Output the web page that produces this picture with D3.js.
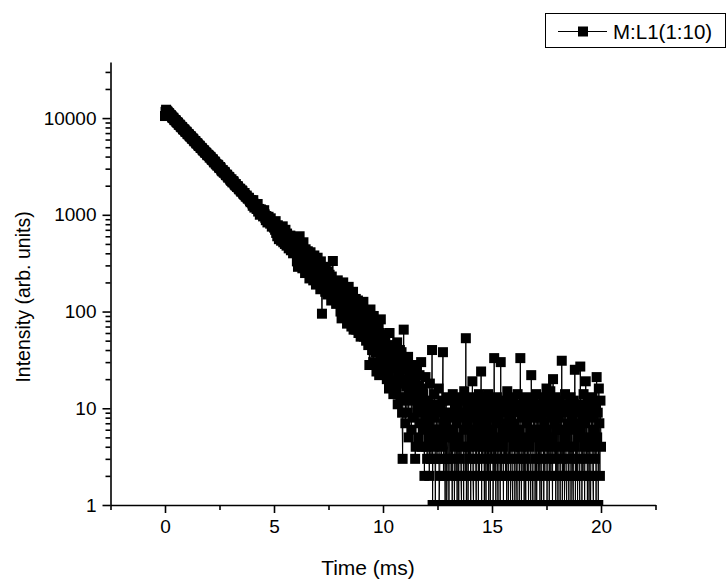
<!DOCTYPE html>
<html><head><meta charset="utf-8">
<script src="https://cdn.jsdelivr.net/npm/d3@7"></script>
<style>
body{margin:0;background:#fff}
svg{display:block}
text{font-family:"Liberation Sans",Arial,sans-serif;fill:#000}
</style>
</head><body>
<svg id="chart" width="727" height="581"></svg>
<script>
// ---- data ----
const seriesName = "M:L1(1:10)";
const xLabel = "Time (ms)";
const yLabel = "Intensity (arb. units)";
const timeStart = 0;       // ms, first sample
const timeStep = 0.025;    // ms, sampling interval
// intensity, in consecutive time blocks
const int0to2 = [
10500,11600,12200,11900,11700,11600,11250,11300,11100,10800,
10600,10700,10500,10200,10050,10100,9900,9600,9500,9550,
9400,9100,9000,9050,8900,8600,8500,8550,8400,8150,
8050,8100,7950,7700,7600,7650,7550,7300,7200,7250,
7150,6900,6800,6850,6750,6550,6450,6500,6400,6200,
6100,6150,6050,5850,5750,5800,5750,5550,5450,5500,
5420,5250,5150,5200,5130,4950,4900,4920,4850,4700,
4620,4650,4600,4450,4380,4400,4350,4200,4130,4180,
4120];
const int2to4 = [
4050,3900,3980,3920,3800,3700,3760,3720,3580,3480,
3560,3500,3380,3330,3310,3220,3290,3230,3100,3040,
3120,3060,2940,2870,2820,2900,2790,2720,2780,2740,
2630,2580,2560,2600,2490,2420,2470,2450,2360,2300,
2250,2330,2210,2160,2230,2200,2110,2060,2020,2080,
1990,1940,1980,1960,1880,1840,1830,1860,1770,1730,
1790,1760,1690,1640,1620,1680,1600,1550,1540,1580,
1510,1470,1480,1500,1430,1390,1350,1420,1360,1310];
const int4to6 = [
1240,1418,1300,1188,1210,1268,1240,1149,1170,1294,
1080,1110,1150,1002,1040,1136,1120,1053,1060,963,
990,1116,1010,930,880,971,930,834,890,954,
860,851,810,920,830,755,780,807,840,738,
820,700,860,650,760,600,780,690,560,720,
640,710,540,690,600,760,520,650,590,500,
700,560,480,640,520,600,450,580,520,610,
430,560,490,520,400,540,470,560,410,500];
const int6to8 = [
540,330,460,290,510,380,600,350,420,300,
470,280,400,520,310,360,250,440,330,390,
260,420,300,380,220,350,410,270,330,240,
340,210,300,380,240,290,190,330,260,360,
200,310,240,280,170,330,220,95,260,210,
270,180,240,160,290,200,230,150,260,190,
160,240,190,210,130,230,175,333,150,200,
200,135,175,120,190,145,210,125,170,140];
const int8to10 = [
190,100,160,85,140,120,200,95,150,110,
90,160,120,75,150,100,180,80,130,105,
140,70,115,95,160,65,120,90,75,135,
65,110,85,130,60,100,75,125,55,95,
110,60,90,126,55,85,70,100,50,80,
60,95,45,80,28,50,105,58,85,40,
75,30,90,55,65,38,80,24,70,45,
42,70,22,60,55,83,32,58,26,51];
const int10to12 = [
30,38,24,55,42,29,20,44,33,22,
16,60,26,33,45,18,28,41,14,27,
36,35,19,15,30,48,11,24,22,31,
40,12,18,38,9,3,25,65,13,20,
7,26,17,9,29,34,5,16,12,22,
26,6,15,28,8,13,20,19,3,4,
14,25,9,11,5,17,22,7,12,30,
4,10,16,14,6,2,11,21,4,8];
const int12to13 = [
3,12,7,5,2,18,10,3,6,40,
1,9,4,14,8,1,5,11,3,6,
9,16,1,2,6,10,3,4,12,38,
2,7,5,1,8,13,1,3,6,9];
const int13to20 = [
1,9,3,12,2,6,1,14,5,8,
1,4,10,2,7,1,11,5,1,13,
3,8,2,1,12,4,9,1,15,6,
2,53,1,7,10,1,4,13,3,8,
1,11,5,19,2,1,9,6,12,3,
1,10,4,7,1,14,2,8,5,24,
1,13,3,9,6,1,11,4,1,7,
10,2,14,1,5,8,1,12,3,6,
9,1,4,33,2,11,1,7,13,3,
1,8,5,12,1,30,2,10,6,4,
1,11,3,9,2,7,1,15,5,1,
12,3,8,1,6,10,2,1,13,4,
7,1,9,5,2,1,14,3,11,1,
6,33,4,1,10,8,2,12,1,5,
3,1,13,7,2,9,1,4,11,6,
1,22,8,2,1,12,5,10,1,3,
14,1,6,9,2,11,4,1,8,3,
1,10,5,13,1,7,2,12,6,16,
1,9,3,11,1,4,15,2,8,5,
1,20,10,3,7,13,1,6,2,11,
1,8,4,12,1,9,3,31,1,6,
2,10,1,14,5,2,1,11,7,4,
1,9,3,13,1,6,8,2,1,12,
4,25,1,10,2,7,1,9,5,3,
1,27,6,11,1,8,2,14,4,1,
7,19,3,10,1,5,12,1,9,2,
1,8,4,13,2,1,10,6,3,11,
1,21,5,9,1,16,7,2,12,4];
const intensity = [].concat(int0to2, int2to4, int4to6, int6to8, int8to10, int10to12, int12to13, int13to20);

const xDomain = [-2.5, 22.5];
const yDomain = [1, 38000];
const xTicks = [0, 5, 10, 15, 20];
const xTickLabels = ["0", "5", "10", "15", "20"];
const xMinorTicks = [-2.5, 2.5, 7.5, 12.5, 17.5, 22.5];
const yTicks = [1, 10, 100, 1000, 10000];
const yTickLabels = ["1", "10", "100", "1000", "10000"];
const yMinorMultipliers = [2, 3, 4, 5, 6, 7, 8, 9];

// ---- layout ----
const svg = d3.select("#chart");
const pL = 110.5, pR = 655.5, pT = 62, pB = 505;
const x = d3.scaleLinear().domain(xDomain).range([pL, pR]);
const y = d3.scaleLog().domain(yDomain).range([pB, pT]);

const points = intensity.map((v, i) => ({t: timeStart + i * timeStep, v})).filter(d => d.v > 0);

svg.append("defs").append("clipPath").attr("id", "plotclip")
  .append("rect").attr("x", pL).attr("y", pT - 20).attr("width", pR - pL).attr("height", pB - pT + 20);

const plot = svg.append("g").attr("clip-path", "url(#plotclip)");
plot.append("path").datum(points)
  .attr("fill", "none").attr("stroke", "#000").attr("stroke-width", 1)
  .attr("d", d3.line().x(d => x(d.t)).y(d => y(d.v)));
const ms = 10;
plot.selectAll("rect.pt").data(points).join("rect").attr("class", "pt")
  .attr("x", d => x(d.t) - ms / 2).attr("y", d => y(d.v) - ms / 2)
  .attr("width", ms).attr("height", ms).attr("fill", "#000");

// ---- axes ----
const yMinor = [];
yTicks.forEach(d => yMinorMultipliers.forEach(m => { if (d * m <= yDomain[1]) yMinor.push(d * m); }));

const axisStroke = 1.6;
const gy = svg.append("g").attr("transform", `translate(${pL},0)`);
gy.call(d3.axisLeft(y).tickValues(yMinor).tickSize(5).tickSizeOuter(0).tickFormat(""));
gy.selectAll(".tick line").attr("stroke-width", axisStroke);
gy.select("path.domain").remove();
const gy2 = svg.append("g").attr("transform", `translate(${pL},0)`);
gy2.call(d3.axisLeft(y).tickValues(yTicks).tickSize(8).tickSizeOuter(0).tickPadding(6)
  .tickFormat((d, i) => yTickLabels[i]));
gy2.selectAll("path.domain").attr("stroke-width", axisStroke);
gy2.selectAll(".tick line").attr("stroke-width", axisStroke);
gy2.selectAll(".tick text").attr("font-size", 19).attr("font-family", '"Liberation Sans",Arial,sans-serif');

const gx = svg.append("g").attr("transform", `translate(0,${pB})`);
gx.call(d3.axisBottom(x).tickValues(xMinorTicks).tickSize(5).tickSizeOuter(0).tickFormat(""));
gx.selectAll(".tick line").attr("stroke-width", axisStroke);
gx.select("path.domain").remove();
const gx2 = svg.append("g").attr("transform", `translate(0,${pB})`);
gx2.call(d3.axisBottom(x).tickValues(xTicks).tickSize(8).tickSizeOuter(0).tickPadding(7)
  .tickFormat((d, i) => xTickLabels[i]));
gx2.selectAll("path.domain").attr("stroke-width", axisStroke);
gx2.selectAll(".tick line").attr("stroke-width", axisStroke);
gx2.selectAll(".tick text").attr("font-size", 19).attr("font-family", '"Liberation Sans",Arial,sans-serif');

// ---- axis titles ----
svg.append("text").attr("x", 368).attr("y", 575).attr("text-anchor", "middle")
  .attr("font-size", 21).text(xLabel);
svg.append("text").attr("transform", "translate(30,297) rotate(-90)").attr("text-anchor", "middle")
  .attr("font-size", 19.5).text(yLabel);

// ---- legend ----
const lg = svg.append("g");
lg.append("rect").attr("x", 545.5).attr("y", 13.5).attr("width", 180).attr("height", 34)
  .attr("fill", "#fff").attr("stroke", "#000").attr("stroke-width", 1);
lg.append("line").attr("x1", 558).attr("x2", 607).attr("y1", 31.5).attr("y2", 31.5)
  .attr("stroke", "#000").attr("stroke-width", 1);
lg.append("rect").attr("x", 583 - ms / 2).attr("y", 31.5 - ms / 2).attr("width", ms).attr("height", ms).attr("fill", "#000");
lg.append("text").attr("x", 613).attr("y", 38.5).attr("font-size", 20.5).text(seriesName);
</script>
</body></html>
